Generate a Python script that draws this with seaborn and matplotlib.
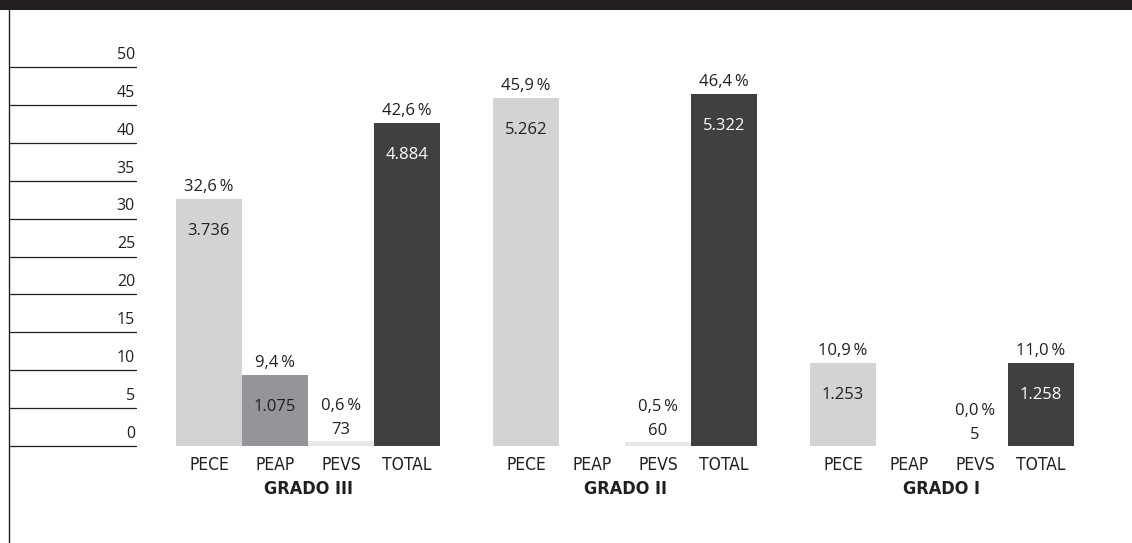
import matplotlib
matplotlib.use("Agg")
import matplotlib.pyplot as plt
from matplotlib.patches import Rectangle
from matplotlib.transforms import blended_transform_factory
import seaborn as sns
import pandas as pd
import numpy as np

# ---- data ----
groups = ["GRADO III", "GRADO II", "GRADO I"]
categories = ["PECE", "PEAP", "PEVS", "TOTAL"]
pct_grado_iii = [32.6, 9.4, 0.6, 42.6]
pct_grado_ii = [45.9, None, 0.5, 46.4]
pct_grado_i = [10.9, None, 0.0, 11.0]
cnt_grado_iii = [3736, 1075, 73, 4884]
cnt_grado_ii = [5262, None, 60, 5322]
cnt_grado_i = [1253, None, 5, 1258]
y_ticks = [0, 5, 10, 15, 20, 25, 30, 35, 40, 45, 50]

colors = {"PECE": "#d1d3d4", "PEAP": "#939598", "PEVS": "#e6e7e8", "TOTAL": "#404041"}
TXT = "#231f20"

rows = []
for g, pcts, cnts in zip(groups, [pct_grado_iii, pct_grado_ii, pct_grado_i],
                         [cnt_grado_iii, cnt_grado_ii, cnt_grado_i]):
    for c, p, n in zip(categories, pcts, cnts):
        rows.append({"grupo": g, "cat": c, "pct": p, "n": n})
df = pd.DataFrame(rows)
df["plot_pct"] = df["pct"].fillna(0.0)

sns.set_theme(style="white")
plt.rcParams["font.family"] = ["Open Sans", "DejaVu Sans"]

W, H = 1132, 543
fig = plt.figure(figsize=(W / 100, H / 100), dpi=100)
ax = fig.add_axes([136 / W, 1 - 446 / H, 1 - 136 / W, (446 - 10) / H])

sns.barplot(data=df, x="grupo", y="plot_pct", hue="cat", order=groups,
            hue_order=categories, palette=colors, width=264 / 317,
            dodge=True, saturation=1, linewidth=0, legend=False, ax=ax)

ax.set_xlim(-172 / 317, 824 / 317)
ax.set_ylim(0, 436 / 7.58)
for s in ax.spines.values():
    s.set_visible(False)
ax.set_xticks([])
ax.set_yticks([])
ax.set_xlabel("")
ax.set_ylabel("")

# header band and left frame line
fig.add_artist(Rectangle((0, 1 - 10 / H), 1, 10 / H, transform=fig.transFigure,
                         color="#231f20", lw=0))
fig.add_artist(plt.Line2D([9 / W, 9 / W], [0, 1 - 10 / H], transform=fig.transFigure,
                          color="#231f20", lw=1.0))

# left scale: lines with labels above
tr = blended_transform_factory(fig.transFigure, ax.transData)
for t in y_ticks:
    ax.plot([10 / W, 136 / W], [t, t], transform=tr, color="#231f20", lw=0.9,
            clip_on=False)
    ax.annotate(str(t), xy=(135 / W, t), xycoords=tr, xytext=(0, 3),
                textcoords="offset points", ha="right", va="bottom",
                fontsize=11.5, color=TXT, annotation_clip=False)

# bar labels
patches = sorted(ax.patches, key=lambda p: p.get_x())
cond = ["DejaVu Sans Condensed", "DejaVu Sans"]
px = 0.72
for (i, row), p in zip(df.iterrows(), patches):
    xc = p.get_x() + p.get_width() / 2
    h = p.get_height()
    ax.annotate(row["cat"], xy=(xc, 0), xytext=(0, -19 * px), textcoords="offset points",
                ha="center", va="center", fontsize=12.5, family=cond, color=TXT,
                fontstretch="condensed", annotation_clip=False)
    if pd.isna(row["pct"]):
        continue
    pct_txt = f"{row['pct']:.1f}".replace(".", ",") + "\u2009%"
    n_txt = f"{int(row['n']):,}".replace(",", ".")
    if row["pct"] >= 3:
        ax.annotate(pct_txt, xy=(xc, h), xytext=(0, 4 * px), textcoords="offset points",
                    ha="center", va="bottom", fontsize=12, color=TXT)
        inside = "white" if row["cat"] == "TOTAL" else TXT
        ax.annotate(n_txt, xy=(xc, h), xytext=(0, -32 * px), textcoords="offset points",
                    ha="center", va="center", fontsize=12, color=inside)
    else:
        ax.annotate(n_txt, xy=(xc, h), xytext=(0, 3 * px), textcoords="offset points",
                    ha="center", va="bottom", fontsize=12, color=TXT)
        ax.annotate(pct_txt, xy=(xc, h), xytext=(0, 27 * px), textcoords="offset points",
                    ha="center", va="bottom", fontsize=12, color=TXT)

# group labels
for k, g in enumerate(groups):
    ps = patches[k * 4:(k + 1) * 4]
    gx = (ps[0].get_x() + ps[-1].get_x() + ps[-1].get_width()) / 2
    ax.annotate(g, xy=(gx, 0), xytext=(0, -43 * px), textcoords="offset points",
                ha="center", va="center", fontsize=13, fontweight="bold",
                family=cond, fontstretch="condensed", color=TXT,
                annotation_clip=False)

fig.savefig("out.png", dpi=100)
